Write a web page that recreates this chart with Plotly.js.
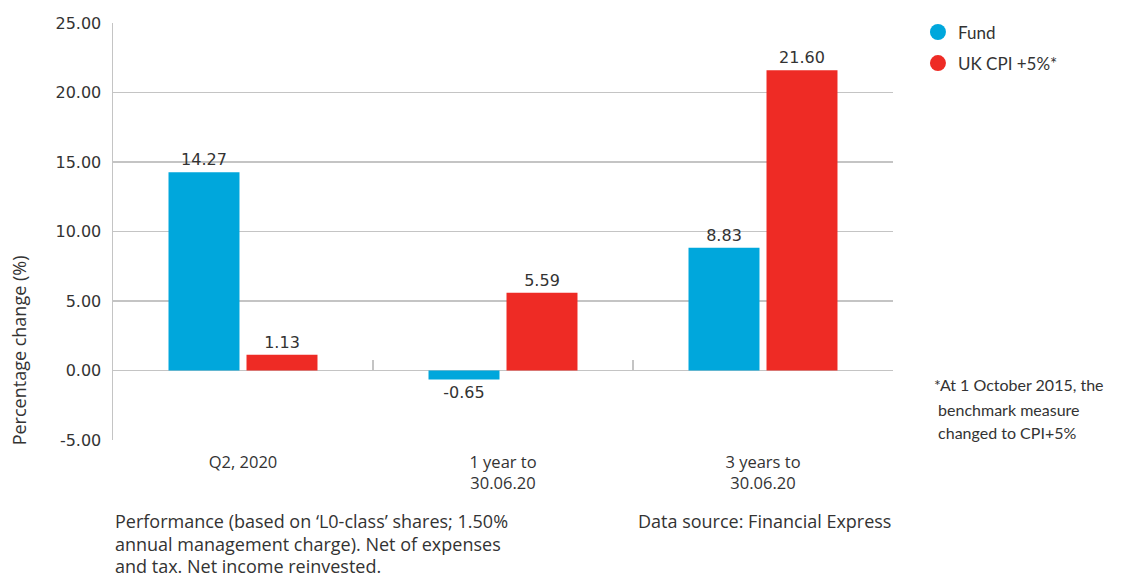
<!DOCTYPE html>
<html><head><meta charset="utf-8">
<script src="https://cdn.plot.ly/plotly-3.0.1.min.js"></script>
<style>body{margin:0;background:#fff}#chart{width:1125px;height:577px}</style>
</head><body><div id="chart"></div>
<script>
const categories = ["Q2, 2020", "1 year to<br>30.06.20", "3 years to<br>30.06.20"];
const fundValues = [14.27, -0.65, 8.83];
const cpiValues = [1.13, 5.59, 21.60];
const seriesNames = ["Fund", "UK CPI +5%*"];
const yTickVals = [-5, 0, 5, 10, 15, 20, 25];
const yTickText = ["-5.00", "0.00", "5.00", "10.00", "15.00", "20.00", "25.00"];
const boundaryTicks = [-0.5, 0.5, 1.5, 2.5];
const footnoteLines = ["*At 1 October 2015, the", " benchmark measure", " changed to CPI+5%"];
const performanceLines = ["Performance (based on ‘L0-class’ shares; 1.50%", "annual management charge). Net of expenses", "and tax. Net income reinvested."];
const sourceText = "Data source: Financial Express";
const yTitle = "Percentage change (%)";
const colors = ["#00A7DC", "#EE2B25"];

const xIdx = categories.map((c, i) => i);
const labelFont = {family: "DejaVu Sans", size: 16, color: "#333"};
const catFont = {family: "Open Sans", size: 16.5, color: "#333"};
const noteFont = {family: "Open Sans", size: 18, color: "#333"};

const traces = [
  {type: "bar", x: xIdx, y: fundValues, marker: {color: colors[0]}, name: seriesNames[0], showlegend: false,
   text: fundValues.map(v => v.toFixed(2)), textposition: "outside", textfont: labelFont, cliponaxis: false, hoverinfo: "none"},
  {type: "bar", x: xIdx, y: cpiValues, marker: {color: colors[1]}, name: seriesNames[1], showlegend: false,
   text: cpiValues.map(v => v.toFixed(2)), textposition: "outside", textfont: labelFont, cliponaxis: false, hoverinfo: "none"},
  {type: "scatter", mode: "markers", x: [null], y: [null], name: seriesNames[0], legendgroup: "a", marker: {color: colors[0], size: 17, symbol: "circle"}},
  {type: "scatter", mode: "markers", x: [null], y: [null], name: seriesNames[1], legendgroup: "b", marker: {color: colors[1], size: 17, symbol: "circle"}},
  {type: "scatter", mode: "markers", x: boundaryTicks, y: boundaryTicks.map(() => null), xaxis: "x2", showlegend: false, hoverinfo: "none"}
];

const footYs = [0.132, 0.072, 0.017];
const footAnn = footnoteLines.map((t, i) => ({
  text: t.replace(/^ /, "&nbsp;"), xref: "paper", yref: "paper", x: 1.05, y: footYs[i], xanchor: "left", yanchor: "middle",
  align: "left", showarrow: false, font: {family: "Lato", size: 16, color: "#333"}
}));
const perfYs = [-0.194, -0.249, -0.302];
const perfAnn = performanceLines.map((t, i) => ({
  text: t, xref: "paper", yref: "paper", x: 0, y: perfYs[i], xanchor: "left", yanchor: "middle",
  align: "left", showarrow: false, font: noteFont
}));

const layout = {
  width: 1125, height: 577,
  margin: {l: 113, r: 232, t: 23, b: 137, autoexpand: false},
  paper_bgcolor: "#fff", plot_bgcolor: "#fff",
  bargap: 0.4, bargroupgap: 0.09, barmode: "group",
  xaxis: {
    range: [-0.5, 2.5], tickvals: xIdx, ticktext: categories,
    showgrid: false, zeroline: false, showline: false,
    ticks: "outside", ticklen: 7, tickcolor: "rgba(0,0,0,0)",
    tickfont: catFont, fixedrange: true
  },
  xaxis2: {
    overlaying: "x", anchor: "free", position: 1/6, side: "bottom",
    range: [-0.5, 2.5], tickvals: boundaryTicks, showticklabels: false,
    ticks: "inside", ticklen: 11, tickcolor: "#c4c4c4", tickwidth: 1.5,
    showgrid: false, zeroline: false, showline: false
  },
  yaxis: {
    range: [-5, 25], tickvals: yTickVals, ticktext: yTickText,
    showgrid: true, gridcolor: "#c4c4c4", gridwidth: 1.5,
    zeroline: true, zerolinecolor: "#c4c4c4", zerolinewidth: 1.5,
    showline: true, linecolor: "#c4c4c4", linewidth: 1.5,
    ticks: "outside", ticklen: 7, tickcolor: "rgba(0,0,0,0)",
    tickfont: {family: "DejaVu Sans", size: 16, color: "#333"}, fixedrange: true
  },
  legend: {x: 1.032, xref: "paper", y: 0.975, yref: "container", xanchor: "left", yanchor: "top",
    font: {family: "Lato", size: 17, color: "#333"},
    itemwidth: 30, tracegroupgap: 6, bgcolor: "rgba(0,0,0,0)"},
  annotations: [
    {text: yTitle, textangle: -90, xref: "paper", yref: "paper", x: -0.12, y: 0.216, xanchor: "center", yanchor: "middle",
     showarrow: false, font: {family: "Open Sans", size: 18, color: "#333"}},
    {text: sourceText, xref: "paper", yref: "paper", x: 1, y: -0.194, xanchor: "right", yanchor: "middle",
     showarrow: false, font: noteFont}
  ].concat(perfAnn, footAnn)
};
Plotly.newPlot("chart", traces, layout, {displayModeBar: false, staticPlot: true});
</script></body></html>
